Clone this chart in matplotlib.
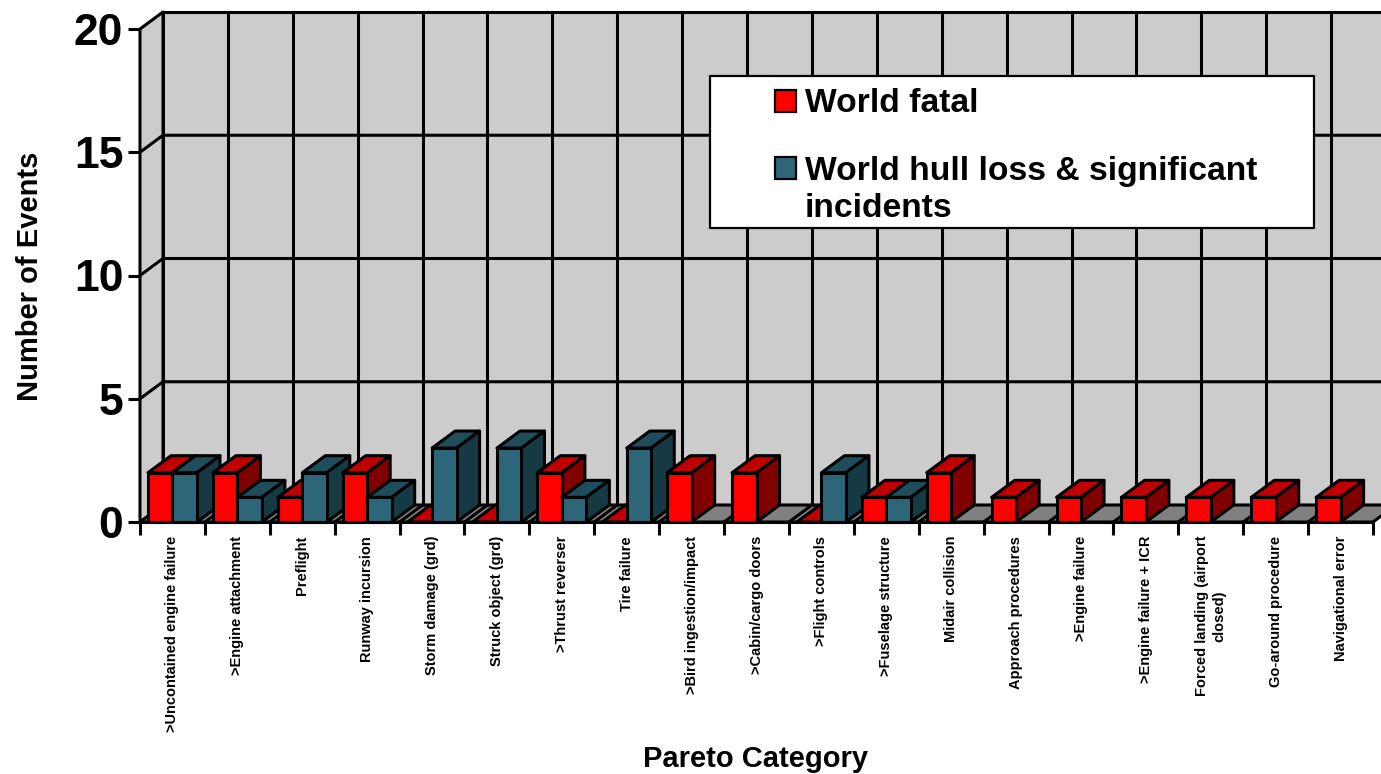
import matplotlib
matplotlib.use("Agg")
import matplotlib.pyplot as plt
from matplotlib.patches import Polygon, Rectangle

categories = [">Uncontained engine failure", ">Engine attachment", "Preflight", "Runway incursion",
              "Storm damage (grd)", "Struck object (grd)", ">Thrust reverser", "Tire failure",
              ">Bird ingestion/impact", ">Cabin/cargo doors", ">Flight controls", ">Fuselage structure",
              "Midair collision", "Approach procedures", ">Engine failure", ">Engine failure + ICR",
              "Forced landing (airport\nclosed)", "Go-around procedure", "Navigational error"]
world_fatal = [2, 2, 1, 2, 0, 0, 2, 0, 2, 2, 0, 1, 2, 1, 1, 1, 1, 1, 1]
# None = no bar drawn at all for that category
world_hull = [2, 1, 2, 1, 3, 3, 1, 3, None, None, 2, 1, None, None, None, None, None, None, None]
y_ticks = [0, 5, 10, 15, 20]

W, H = 1381, 774
DX = 23 / 64.9   # depth in category units
DY = 17 / 24.65  # depth in value units
BAR_W = 24.5 / 64.9
BAR_PAD = 8 / 64.9
LW = 2.2

plt.rcParams['font.family'] = ['Liberation Sans', 'DejaVu Sans']
plt.rcParams['font.weight'] = 'bold'

fig = plt.figure(figsize=(W / 100, H / 100), dpi=100)
ax = fig.add_axes([140 / W, 1 - 522 / H, (1373 - 140) / W, (522 - 29) / H])
ax.set_xlim(0, 19)
ax.set_ylim(0, 20)
ax.patch.set_visible(False)
for s in ax.spines.values():
    s.set_visible(False)


def poly(pts, fc, z, lw=LW):
    ax.add_patch(Polygon(pts, closed=True, fc=fc, ec='black', lw=lw, zorder=z,
                         clip_on=False, joinstyle='round'))


# back wall, side wall, floor
n = len(categories)
poly([(DX, DY), (n + DX, DY), (n + DX, 20 + DY), (DX, 20 + DY)], '#cccccc', 1)
poly([(0, 0), (DX, DY), (DX, 20 + DY), (0, 20)], '#cccccc', 1)
poly([(0, 0), (n, 0), (n + DX, DY), (DX, DY)], '#808080', 1)

# wall grid
for v in y_ticks[1:-1]:
    ax.plot([0, DX, n + DX], [v, v + DY, v + DY], color='black', lw=LW, zorder=2, clip_on=False)
for i in range(1, n):
    ax.plot([i + DX, i + DX], [DY, 20 + DY], color='black', lw=LW, zorder=2, clip_on=False)
    ax.plot([i, i + DX], [0, DY], color='black', lw=LW, zorder=2, clip_on=False)


def box(x0, h, front, top, side, z):
    x1 = x0 + BAR_W
    poly([(x0, h), (x1, h), (x1 + DX, h + DY), (x0 + DX, h + DY)], top, z)
    if h > 0:
        poly([(x1, 0), (x1 + DX, DY), (x1 + DX, h + DY), (x1, h)], side, z)
        ax.bar(x0, h, width=BAR_W, align='edge', color=front, edgecolor='black',
               linewidth=LW, zorder=z + 0.1, clip_on=False)


# later categories sit on top of the side face of earlier ones
for i in range(n):
    x0 = i + BAR_PAD
    box(x0, world_fatal[i], '#ff0000', '#c00000', '#800000', 3 + i)
    if world_hull[i] is not None:
        box(x0 + BAR_W, world_hull[i], '#2c6678', '#1f4d5c', '#163a44', 3.5 + i)

# front floor line
ax.plot([0, n], [0, 0], color='black', lw=LW, zorder=30, clip_on=False)

ax.set_yticks(y_ticks)
ax.set_yticklabels(y_ticks, fontsize=32, fontweight='bold')
ax.tick_params(axis='y', length=9, width=LW, pad=3)
ax.set_xticks(range(n + 1))
ax.set_xticklabels([])
ax.tick_params(axis='x', which='major', length=9, width=LW)
ax.set_xticks([i + 0.5 for i in range(n)], minor=True)
ax.set_xticklabels(categories, minor=True, rotation=90, fontsize=10.5, fontweight='bold',
                   va='top', ha='center', multialignment='center', linespacing=1.35)
ax.tick_params(axis='x', which='minor', length=0, pad=10)

fig.text(756 / W, 1 - 759 / H, "Pareto Category", fontsize=21, fontweight='bold', ha='center', va='center')
fig.text(30 / W, 1 - 276 / H, "Number of Events", fontsize=21, fontweight='bold', rotation=90,
         ha='center', va='center')

# legend box, drawn by hand to keep the wrapped entry and its layout
fig.patches.append(Rectangle((710 / W, 1 - 228 / H), 604 / W, 152 / H, transform=fig.transFigure,
                             fc='white', ec='black', lw=1.6, zorder=10))
for y_px, col in [(101, '#ff0000'), (168, '#2c6678')]:
    fig.patches.append(Rectangle((775 / W, 1 - (y_px + 11) / H), 21 / W, 22 / H, transform=fig.transFigure,
                                 fc=col, ec='black', lw=1.6, zorder=11))
fig.text(805 / W, 1 - 103 / H, "World fatal", fontsize=24.2, fontweight='bold', va='center', zorder=12)
fig.text(805 / W, 1 - 190 / H, "World hull loss & significant\nincidents", fontsize=24.2, fontweight='bold',
         va='center', linespacing=1.22, zorder=12)

fig.savefig("out.png", dpi=100)
